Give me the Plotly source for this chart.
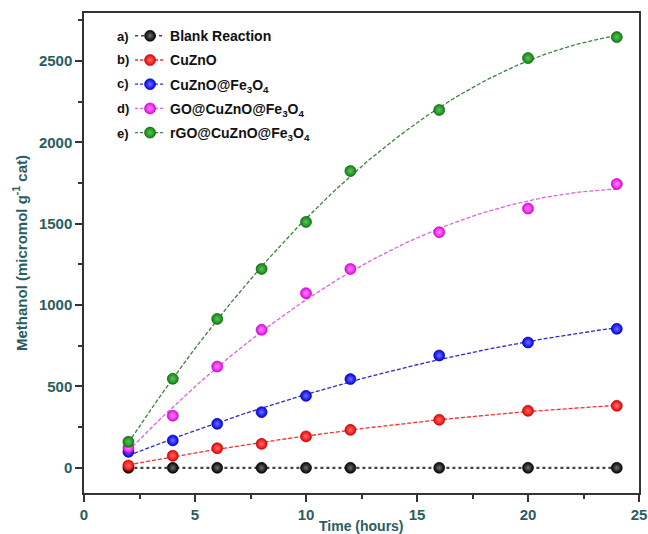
import numpy as np
import plotly.graph_objects as go

time_h = [2, 4, 6, 8, 10, 12, 16, 20, 24]
blank = [0, 0, 0, 0, 0, 0, 0, 0, 0]
cuzno = [14, 74, 120, 147, 193, 233, 295, 350, 381]
cuzno_fe = [98, 168, 270, 342, 442, 545, 690, 770, 854]
go_cuzno_fe = [123, 320, 622, 848, 1073, 1222, 1448, 1593, 1744]
rgo_cuzno_fe = [160, 547, 915, 1222, 1511, 1824, 2199, 2518, 2647]

names = ["Blank Reaction", "CuZnO", "CuZnO@Fe<sub>3</sub>O<sub>4</sub>",
         "GO@CuZnO@Fe<sub>3</sub>O<sub>4</sub>", "rGO@CuZnO@Fe<sub>3</sub>O<sub>4</sub>"]
prefixes = ["a)", "b)", "c)", "d)", "e)"]
series = [blank, cuzno, cuzno_fe, go_cuzno_fe, rgo_cuzno_fe]
marker_colors = ["#000000", "#f00000", "#0000f0", "#f000f0", "#0a8a0a"]
highlight = ["#707070", "#ff7070", "#7070ff", "#ff90ff", "#60c060"]
edge = ["#000000", "#a00000", "#000080", "#a000a0", "#004a00"]
line_colors = ["#444444", "#ff2a2a", "#2a2ad0", "#e060e0", "#3f7f3f"]
line_dash = ["dot", "4px,2px", "4px,2px", "4px,2px", "4px,2px"]
line_w = [2.2, 1.3, 1.3, 1.3, 1.3]

fig = go.Figure()
xfit = np.linspace(2, 24, 100)
for i, ys in enumerate(series):
    if i == 0:
        fx, fy = time_h, ys
    else:
        c = np.polyfit(time_h, ys, 2)
        fx, fy = xfit, np.polyval(c, xfit)
    fig.add_trace(go.Scatter(x=fx, y=fy, mode="lines", showlegend=False,
                             line=dict(color=line_colors[i], width=line_w[i], dash=line_dash[i]),
                             hoverinfo="skip"))
for i, ys in enumerate(series):
    mk = dict(size=11, color=marker_colors[i],
              gradient=dict(type="radial", color=highlight[i]),
              line=dict(color=edge[i], width=0.6))
    fig.add_trace(go.Scatter(x=time_h, y=ys, mode="markers", showlegend=False, marker=mk))
    fig.add_trace(go.Scatter(
        x=[None], y=[None], mode="lines+markers", name=names[i], legendgroup=f"g{i}",
        line=dict(color=line_colors[i], width=1.3 if i else 1.6, dash="dot" if i == 0 else "3px,2px"),
        marker=mk,
    ))

teal = "#2a5e5e"
fig.update_layout(
    width=648, height=534,
    margin=dict(l=84, r=9, t=13, b=41, autoexpand=False),
    paper_bgcolor="white", plot_bgcolor="white",
    font=dict(family="Liberation Sans, Arial, sans-serif", size=14, color="#000"),
    legend=dict(x=0.083, y=0.985, xanchor="left", yanchor="top",
                font=dict(size=14, weight="bold", color="#111"),
                bgcolor="rgba(0,0,0,0)", tracegroupgap=3, itemwidth=30),
    showlegend=True,
)
fig.update_xaxes(
    range=[0, 25], tick0=0, dtick=5, ticks="outside", ticklen=7, tickwidth=1.5, automargin=False,
    tickcolor="#333", minor=dict(dtick=2.5, ticks="outside", ticklen=4, tickwidth=1.5, tickcolor="#333"),
    showline=True, linewidth=1.5, linecolor="#333", mirror=True, showgrid=False, zeroline=False,
    tickfont=dict(size=15, weight="bold", color=teal),
)
fig.update_yaxes(
    range=[-155, 2795], tick0=0, dtick=500, ticks="outside", ticklen=7, tickwidth=1.5, automargin=False,
    tickcolor="#333", minor=dict(dtick=250, ticks="outside", ticklen=4, tickwidth=1.5, tickcolor="#333"),
    showline=True, linewidth=1.5, linecolor="#333", mirror=True, showgrid=False, zeroline=False,
    tickfont=dict(size=15, weight="bold", color=teal),
    title=dict(text="Methanol (micromol g<sup>-1</sup> cat)", font=dict(size=15, weight="bold", color=teal), standoff=8),
)
fig.add_annotation(text="Time (hours)", xref="paper", yref="paper", x=0.5, y=-0.068,
                   showarrow=False, xanchor="center", yanchor="middle",
                   font=dict(size=14, weight="bold", color=teal))
row_y = [0.952, 0.904, 0.854, 0.802, 0.750]
for i, p in enumerate(prefixes):
    fig.add_annotation(text=p, xref="paper", yref="paper", x=0.085, y=row_y[i],
                       showarrow=False, xanchor="right", yanchor="middle",
                       font=dict(size=13, weight="bold", color="#111"))
fig.write_html("out.html")
